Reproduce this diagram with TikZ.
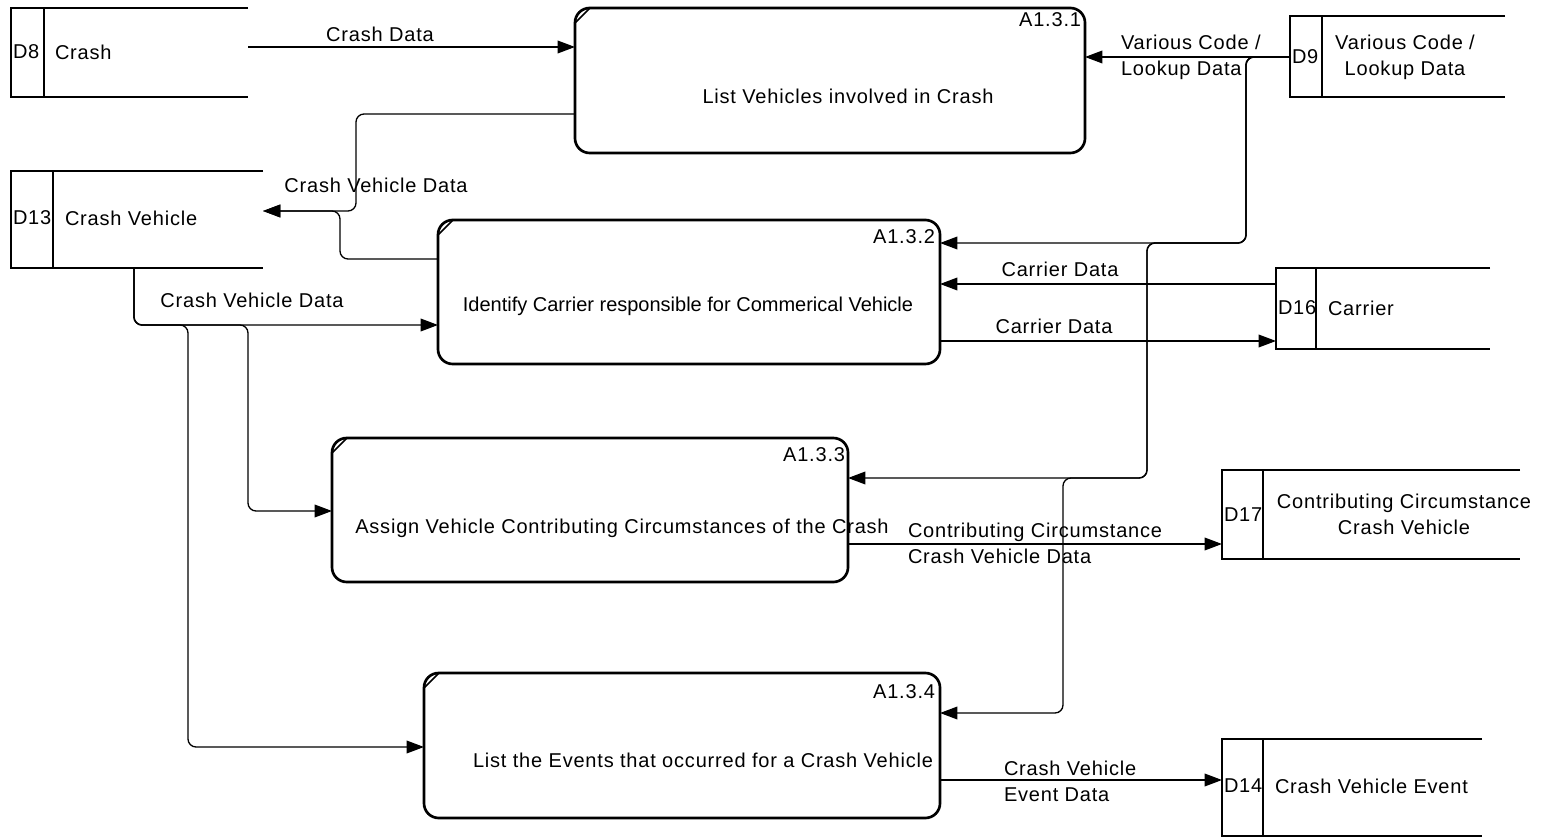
\documentclass[tikz,border=0pt]{standalone}
\usepackage{fontspec}
\setmainfont{Liberation Sans}[LetterSpace=4]
\newfontfamily\tightfont{Liberation Sans}
\usetikzlibrary{arrows.meta,calc}
\newcommand{\pxw}{0.75pt}
% open-ended data store: top, left and bottom edges plus the id divider
\newcommand{\drawstore}[2]{%
  \draw[storeline] (#1.north east) -- (#1.north west) -- (#1.south west) -- (#1.south east);
  \draw[storeline] ($(#1.north west)+(#2,0)$) -- ($(#1.south west)+(#2,0)$);}
% process corner mark
\newcommand{\procflag}[1]{%
  \draw[line width=1.2pt] ($(#1.north west)+(0,15)$) -- ($(#1.north west)+(15,0)$);}
\begin{document}
\begin{tikzpicture}[x=0.75pt,y=-0.75pt,
  font=\fontsize{15}{19.5}\selectfont,
  proc/.style={draw, line width=2pt, rounded corners=11pt, inner sep=0, outer sep=0},
  store/.style={inner sep=0, outer sep=0},
  storeline/.style={line width=2pt},
  flow/.style={line width=1pt, rounded corners=6pt, -{Triangle[length=13pt,width=9.5pt]}},
  txt/.style={inner sep=0, outer sep=0},
]
\useasboundingbox (0,0) rectangle (1545,837);

% processes
\node[proc, minimum width=510*\pxw, minimum height=145*\pxw] (p1) at (830,80.5) {};
\node[proc, minimum width=502*\pxw, minimum height=144*\pxw] (p2) at (689,292) {};
\node[proc, minimum width=516*\pxw, minimum height=144*\pxw] (p3) at (590,510) {};
\node[proc, minimum width=516*\pxw, minimum height=145*\pxw] (p4) at (682,745.5) {};
\procflag{p1}\procflag{p2}\procflag{p3}\procflag{p4}

\node[txt] (t1) at (848,96) {List Vehicles involved in Crash};
\node[txt] (t2) at (688,306) {\tightfont Identify Carrier responsible for Commerical Vehicle};
\node[txt] (t3) at (622,528) {Assign Vehicle Contributing Circumstances of the Crash};
\node[txt] (t4) at (703,760) {List the Events that occurred for a Crash Vehicle};
\node[txt, anchor=east] (i1) at (1081,20) {A1.3.1};
\node[txt, anchor=east] (i2) at (935,237) {A1.3.2};
\node[txt, anchor=east] (i3) at (845,455) {A1.3.3};
\node[txt, anchor=east] (i4) at (935,692) {A1.3.4};

% data stores
\node[store, minimum width=237*\pxw, minimum height=89*\pxw] (d8) at (129.5,52.5) {};
\node[store, minimum width=252*\pxw, minimum height=97*\pxw] (d13) at (137,219.5) {};
\node[store, minimum width=215*\pxw, minimum height=81*\pxw] (d9) at (1397.5,56.5) {};
\node[store, minimum width=214*\pxw, minimum height=81*\pxw] (d16) at (1383,308.5) {};
\node[store, minimum width=298*\pxw, minimum height=89*\pxw] (d17) at (1371,514.5) {};
\node[store, minimum width=260*\pxw, minimum height=97*\pxw] (d14) at (1352,787.5) {};
\drawstore{d8}{33}
\drawstore{d13}{42}
\drawstore{d9}{32}
\drawstore{d16}{40}
\drawstore{d17}{41}
\drawstore{d14}{41}

\node[txt, anchor=west] (d8id) at (13,52) {D8};
\node[txt, anchor=west] (d8n) at (55,52) {Crash};
\node[txt, anchor=west] (d13id) at (13,218) {D13};
\node[txt, anchor=west] (d13n) at (65,218) {Crash Vehicle};
\node[txt, anchor=west] (d9id) at (1292,57) {D9};
\node[txt, align=center] (d9n) at (1405,57) {Various Code /\\Lookup Data};
\node[txt, anchor=west] (d16id) at (1278,308) {D16};
\node[txt, anchor=west] (d16n) at (1328,308) {Carrier};
\node[txt, anchor=west] (d17id) at (1224,515) {D17};
\node[txt, align=center] (d17n) at (1404,514) {Contributing Circumstance\\Crash Vehicle};
\node[txt, anchor=west] (d14id) at (1224,786) {D14};
\node[txt, anchor=west] (d14n) at (1275,786) {Crash Vehicle Event};

% flows
\draw[flow] (d8.east |- 0,47) -- (p1.west |- 0,47);
\node[txt] (l1) at (380,34) {Crash Data};

\draw[flow] (d9.west |- 0,57) -- (p1.east |- 0,57);
\draw[flow] (d9.west |- 0,57) -- (1246,57) -- (1246,243) -- (p2.east |- 0,243);
\draw[flow] (d9.west |- 0,57) -- (1246,57) -- (1246,243) -- (1147,243) -- (1147,478) -- (p3.east |- 0,478);
\draw[flow] (d9.west |- 0,57) -- (1246,57) -- (1246,243) -- (1147,243) -- (1147,478) -- (1063,478) -- (1063,713) -- (p4.east |- 0,713);
\node[txt, anchor=west, align=left] (l2) at (1121,57) {Various Code /\\Lookup Data};

\draw[flow] (p1.west |- 0,114) -- (356,114) -- (356,211) -- (d13.east |- 0,211);
\draw[flow] (p2.west |- 0,259) -- (340,259) -- (340,211) -- (d13.east |- 0,211);
\node[txt] (l3) at (376,185) {Crash Vehicle Data};

\draw[flow] (d13.south -| 134,0) -- (134,325) -- (p2.west |- 0,325);
\draw[flow] (d13.south -| 134,0) -- (134,325) -- (248,325) -- (248,511) -- (p3.west |- 0,511);
\draw[flow] (d13.south -| 134,0) -- (134,325) -- (188,325) -- (188,747) -- (p4.west |- 0,747);
\node[txt] (l4) at (252,300) {Crash Vehicle Data};

\draw[flow] (d16.west |- 0,284) -- (p2.east |- 0,284);
\node[txt] (l5) at (1060,269) {Carrier Data};
\draw[flow] (p2.east |- 0,341) -- (d16.west |- 0,341);
\node[txt] (l6) at (1054,326) {Carrier Data};

\draw[flow] (p3.east |- 0,544) -- (d17.west |- 0,544);
\node[txt, anchor=west, align=left] (l7) at (908,543) {Contributing Circumstance\\Crash Vehicle Data};

\draw[flow] (p4.east |- 0,780) -- (d14.west |- 0,780);
\node[txt, anchor=west, align=left] (l8) at (1004,781) {Crash Vehicle\\Event Data};
\end{tikzpicture}
\end{document}
